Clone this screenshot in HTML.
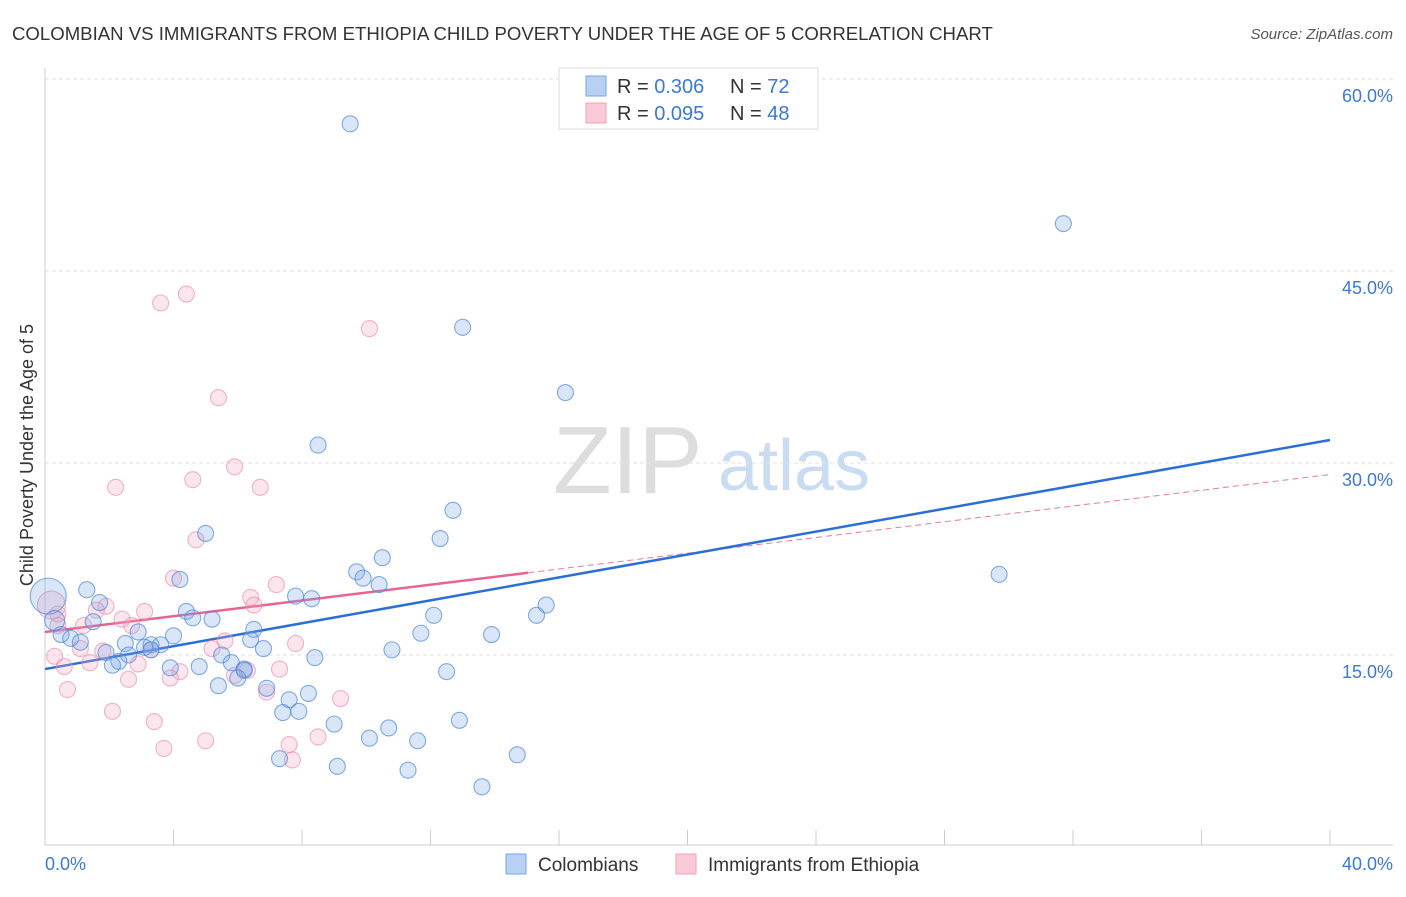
<!DOCTYPE html>
<html><head><meta charset="utf-8"><style>
body{margin:0;background:#fff;font-family:"Liberation Sans",sans-serif;}
svg text{font-family:"Liberation Sans",sans-serif;}
</style></head><body>
<svg id="chart" width="1406" height="892" viewBox="0 0 1406 892">
<text x="12" y="40" font-size="18.6" fill="#333">COLOMBIAN VS IMMIGRANTS FROM ETHIOPIA CHILD POVERTY UNDER THE AGE OF 5 CORRELATION CHART</text>
<text x="1393" y="39" font-size="15" fill="#555" font-style="italic" text-anchor="end">Source: ZipAtlas.com</text>
<text transform="translate(33,455) rotate(-90)" font-size="18" fill="#333" text-anchor="middle">Child Poverty Under the Age of 5</text>
<g>
<text x="553" y="493" font-size="96" fill="#ddd" font-family="Liberation Serif,serif">ZIP</text>
<text x="718" y="490" font-size="72" fill="#c9dcf2">atlas</text>
</g>
<g id="grid"></g><g id="axes"></g><g id="trends"></g><g id="points"></g>
<g>
<rect x="559" y="68" width="259" height="61" fill="#fff" stroke="#ddd"/>
<rect x="586" y="76" width="20" height="20" fill="#b7d0f4" stroke="#7aa6e6"/>
<rect x="586" y="103" width="20" height="20" fill="#fbcad8" stroke="#f0a0b8"/>
<text x="617" y="93" font-size="20" fill="#333">R = <tspan fill="#3b78d8">0.306</tspan><tspan x="730">N = </tspan><tspan fill="#3b78d8">72</tspan></text>
<text x="617" y="120" font-size="20" fill="#333">R = <tspan fill="#3b78d8">0.095</tspan><tspan x="730">N = </tspan><tspan fill="#3b78d8">48</tspan></text>
</g>
<g>
<rect x="506" y="854" width="20" height="20" fill="#b7d0f4" stroke="#7aa6e6"/>
<text x="538" y="871" font-size="19" fill="#333">Colombians</text>
<rect x="676" y="854" width="20" height="20" fill="#fbcad8" stroke="#f0a0b8"/>
<text x="708" y="871" font-size="19" fill="#333">Immigrants from Ethiopia</text>
</g>
</svg>
<script>
const yTicks=[15,30,45,60];
const yTickLabels=["15.0%","30.0%","45.0%","60.0%"];
const xTickLabels=["0.0%","40.0%"];
const blueX=[9.5,31.7,13.0,16.2,8.5,12.7,5.0,12.3,10.5,9.7,9.9,10.4,4.2,1.3,7.8,8.3,15.6,15.3,29.7,4.4,12.1,1.7,4.6,5.2,11.7,13.9,2.9,1.5,4.0,6.5,0.5,0.8,1.1,2.5,6.4,6.8,3.3,3.6,3.1,3.3,5.5,5.8,1.9,2.6,2.3,2.1,3.9,4.8,6.2,6.2,6.0,8.4,10.8,12.5,5.4,6.9,7.6,8.2,7.4,7.9,9.0,10.7,12.9,11.6,10.1,7.3,9.1,11.3,14.7,13.6,0.1,0.3];
const blueY=[56.5,48.7,40.6,35.5,31.4,26.3,24.5,24.1,22.6,21.5,21.0,20.5,20.9,20.1,19.6,19.4,18.9,18.1,21.3,18.4,18.1,19.1,17.9,17.8,16.7,16.6,16.8,17.6,16.5,17.0,16.6,16.3,16.0,15.9,16.2,15.5,15.8,15.8,15.6,15.4,15.0,14.4,15.2,15.0,14.5,14.2,14.0,14.1,13.9,13.8,13.2,14.8,15.4,13.7,12.6,12.4,11.5,12.0,10.5,10.6,9.6,9.3,9.9,8.3,8.5,6.9,6.3,6.0,7.2,4.7,19.6,17.7];
const blueR=[8,8,8,8,8,8,8,8,8,8,8,8,8,8,8,8,8,8,8,8,8,8,8,8,8,8,8,8,8,8,8,8,8,8,8,8,8,8,8,8,8,8,8,8,8,8,8,8,8,8,8,8,8,8,8,8,8,8,8,8,8,8,8,8,8,8,8,8,8,8,18,10];
const pinkX=[4.4,3.6,10.1,5.4,5.9,2.2,4.6,6.7,4.7,4.0,7.2,6.4,6.5,3.1,1.9,0.4,0.2,1.6,2.4,2.7,7.8,5.6,5.2,1.1,1.8,0.3,1.4,0.6,2.9,6.3,7.3,4.2,2.6,3.9,6.9,0.7,9.2,2.1,3.4,5.0,3.7,7.6,8.5,7.7,5.9,0.4,3.3,1.2];
const pinkY=[43.2,42.5,40.5,35.1,29.7,28.1,28.7,28.1,24.0,21.0,20.5,19.5,18.9,18.4,18.8,18.2,18.9,18.5,17.8,17.3,15.9,16.1,15.5,15.5,15.3,14.9,14.4,14.1,14.3,13.8,13.9,13.7,13.1,13.2,12.1,12.3,11.6,10.6,9.8,8.3,7.7,8.0,8.6,6.8,13.4,17.3,15.4,17.3];
const pinkR=[8,8,8,8,8,8,8,8,8,8,8,8,8,8,8,8,14,8,8,8,8,8,8,8,8,8,8,8,8,8,8,8,8,8,8,8,8,8,8,8,8,8,8,8,8,8,8,8];
const blueTrend=[13.9,31.8];
const pinkTrend=[16.8,29.1];
const pinkSolidEnd=15.04;

const NS="http://www.w3.org/2000/svg";
const sx=v=>45+v/40*1285;
const sy=v=>847-v*12.8;
function mk(tag,attrs,parent){const e=document.createElementNS(NS,tag);for(const k in attrs)e.setAttribute(k,attrs[k]);parent.appendChild(e);return e;}
const grid=document.getElementById('grid'),axes=document.getElementById('axes'),trends=document.getElementById('trends'),pts=document.getElementById('points');
yTicks.forEach((t,i)=>{
 const l=mk('line',{x1:45,x2:1393,y1:sy(t),y2:sy(t),stroke:'#e2e2e2','stroke-dasharray':'4,3'},grid);
 
 
 const tx=mk('text',{x:1393,y:sy(t)+23,'font-size':18,fill:'#3b78d8','text-anchor':'end'},axes);
 tx.textContent=yTickLabels[i];
 
 
});
const la=mk('line',{x1:45,x2:45,y1:68,y2:845,stroke:'#ccc'},axes);


const ba=mk('line',{x1:45,x2:1393,y1:845,y2:845,stroke:'#ccc'},axes);


for(let i=0;i<=10;i++){const x=sx(i*4);
 const t=mk('line',{x1:x,x2:x,y1:830,y2:845,stroke:'#ccc'},axes);
 
 }
const xl0=mk('text',{x:45,y:870,'font-size':18,fill:'#3b78d8'},axes);xl0.textContent=xTickLabels[0];


const xl1=mk('text',{x:1393,y:870,'font-size':18,fill:'#3b78d8','text-anchor':'end'},axes);xl1.textContent=xTickLabels[1];



function dots(X,Y,R,fill,stroke,name){X.forEach((x,i)=>{
 const c=mk('circle',{cx:sx(x),cy:sy(Y[i]),r:R[i],fill:fill,stroke:stroke,'stroke-width':1.1},pts);
 
 });}
dots(pinkX,pinkY,pinkR,'rgba(245,165,190,0.28)','rgba(235,140,170,0.65)','ethiopia-point');
dots(blueX,blueY,blueR,'rgba(120,165,230,0.28)','rgba(80,135,215,0.7)','colombian-point');

const pAt=x=>pinkTrend[0]+(pinkTrend[1]-pinkTrend[0])*x/40;
const pd=mk('line',{x1:sx(pinkSolidEnd),y1:sy(pAt(pinkSolidEnd)),x2:sx(40),y2:sy(pinkTrend[1]),stroke:'#e87a9c','stroke-width':1,'stroke-dasharray':'6,4'},trends);


const bt=mk('line',{x1:sx(0),y1:sy(blueTrend[0]),x2:sx(40),y2:sy(blueTrend[1]),stroke:'#2b6fd6','stroke-width':2.5},trends);


const pt=mk('line',{x1:sx(0),y1:sy(pinkTrend[0]),x2:sx(pinkSolidEnd),y2:sy(pAt(pinkSolidEnd)),stroke:'#e8648e','stroke-width':2.5},trends);


</script>
</body></html>
